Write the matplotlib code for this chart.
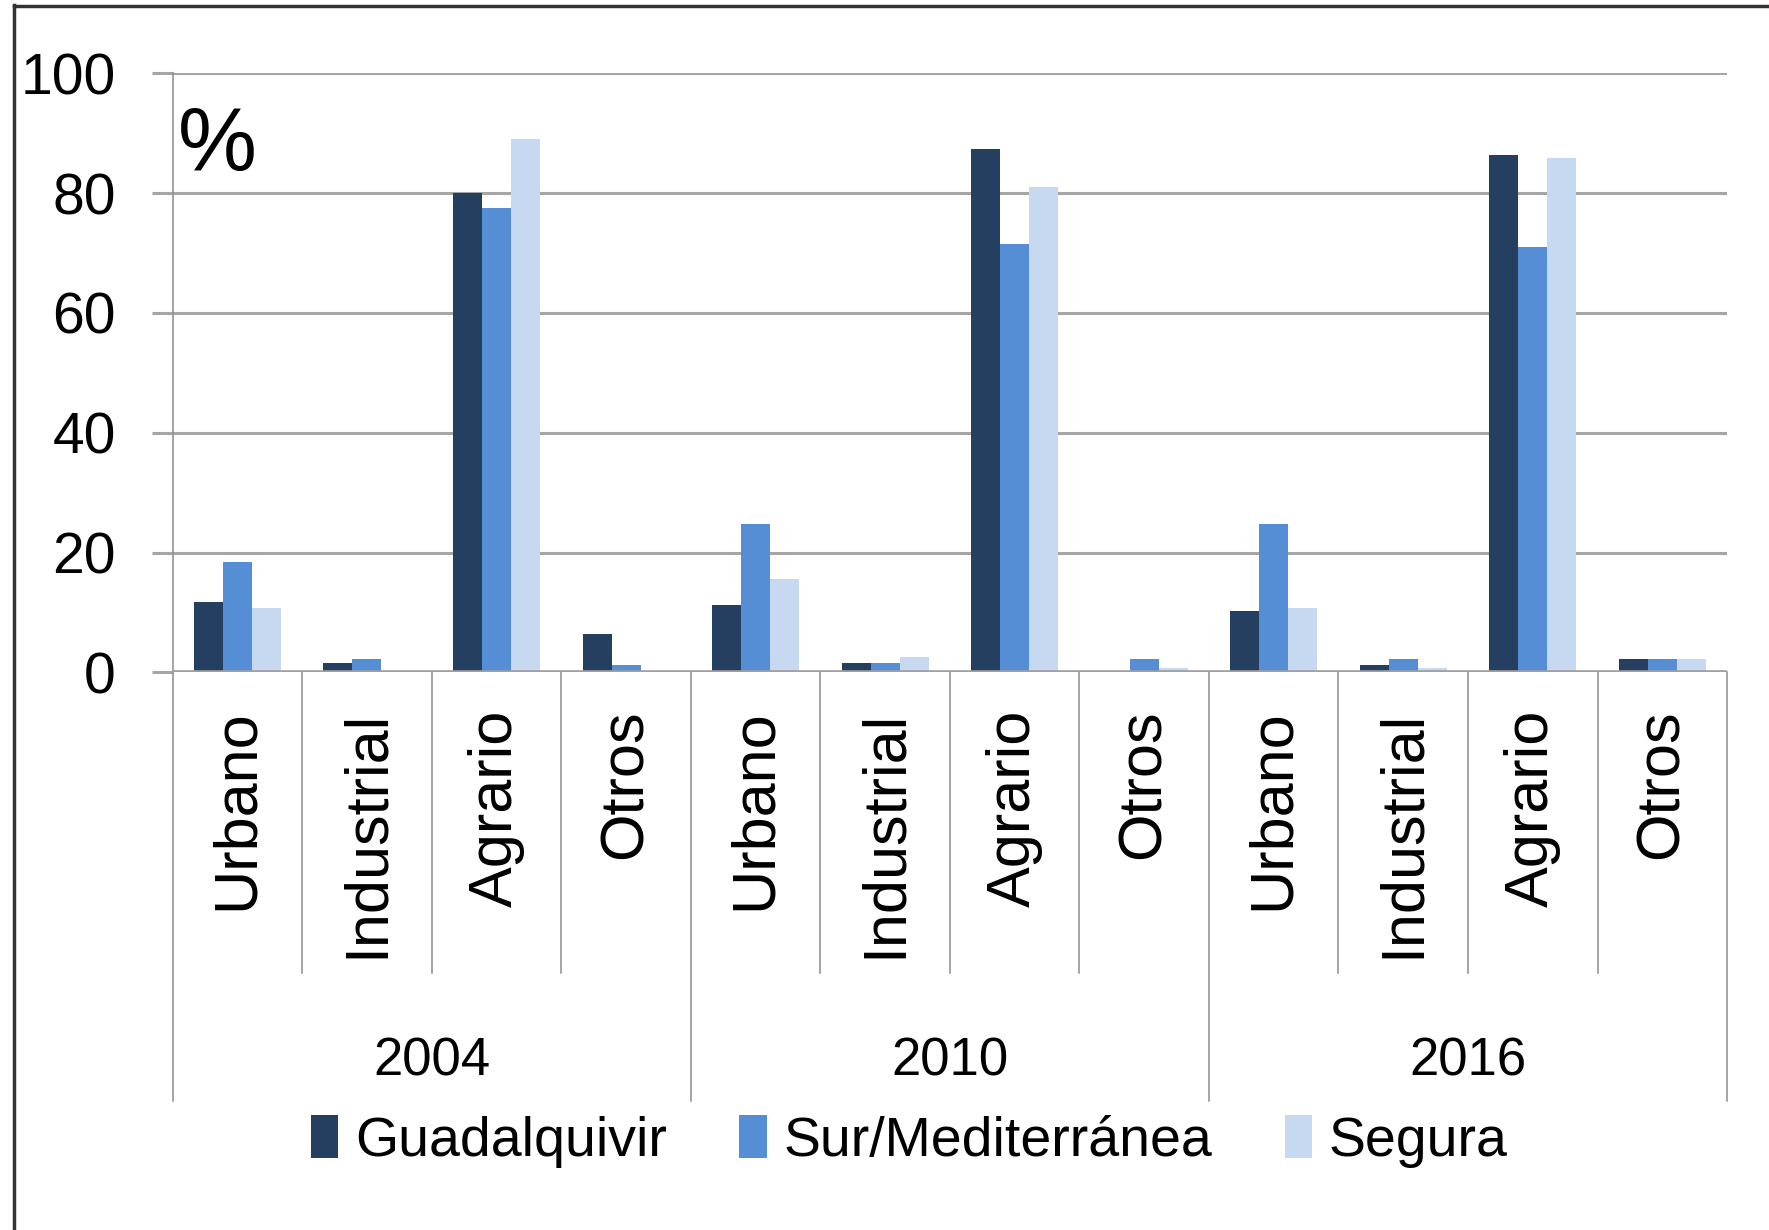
import matplotlib
matplotlib.use('Agg')
import matplotlib.pyplot as plt
from matplotlib.lines import Line2D
from matplotlib.patches import Patch
import matplotlib.transforms as mtransforms
import numpy as np

years = ['2004', '2010', '2016']
usos = ['Urbano', 'Industrial', 'Agrario', 'Otros']
series = ['Guadalquivir', 'Sur/Mediterránea', 'Segura']
colores = ['#243F60', '#558ED5', '#C6D9F1']

# valores por año: Urbano, Industrial, Agrario, Otros
guadalquivir = [11.7, 1.6, 80.0, 6.4,   11.2, 1.6, 87.3, 0.0,   10.2, 1.2, 86.4, 2.2]
sur_med      = [18.4, 2.2, 77.6, 1.2,   24.7, 1.6, 71.5, 2.2,   24.7, 2.2, 71.0, 2.2]
segura       = [10.8, 0.0, 89.0, 0.0,   15.6, 2.6, 81.1, 0.7,   10.8, 0.7, 85.8, 2.2]

plt.rcParams['font.family'] = ['Liberation Sans', 'DejaVu Sans']

fig = plt.figure(figsize=(17.69, 12.30), dpi=100)
ax = fig.add_axes([0.0976, 0.4533, 0.8787, 0.4871])

x = np.arange(12)
w = 0.224
for i, vals in enumerate([guadalquivir, sur_med, segura]):
    ax.bar(x + (i - 1) * w, vals, w, color=colores[i], zorder=3)

ax.set_xlim(-0.5, 11.5)
ax.set_ylim(0, 100)
ax.set_yticks([0, 20, 40, 60, 80, 100])
ax.yaxis.grid(True, color='#A6A6A6', linewidth=2.2, zorder=0)
ax.axhline(0, color='#A0A0A0', linewidth=2.6, zorder=4)
ax.tick_params(axis='y', length=14.8, width=2.2, color='#A6A6A6',
               pad=26, labelsize=41)
ax.tick_params(axis='x', length=0, labelbottom=False)
for s in ['top', 'right', 'bottom', 'left']:
    ax.spines[s].set_visible(False)

gris = '#8C8C8C'
trans = mtransforms.blended_transform_factory(ax.transData, ax.transAxes)
# eje vertical y separadores
ax.plot([-0.5, -0.5], [1, -0.715], color=gris, lw=1.1, transform=trans, clip_on=False)
for k in range(1, 13):
    bottom = -0.715 if k % 4 == 0 else -0.501
    ax.plot([k - 0.5, k - 0.5], [0, bottom], color=gris, lw=1.1,
            transform=trans, clip_on=False)

for k in range(12):
    ax.text(k, -0.062, usos[k % 4], rotation=90, ha='center', va='top',
            fontsize=44, transform=trans)
for g, yr in enumerate(years):
    ax.text(4 * g + 1.5, -0.65, yr, ha='center', va='center',
            fontsize=38, transform=trans)

ax.text(0.0035, 0.947, '%', ha='left', va='top', fontsize=64,
        transform=ax.transAxes)

handles = [Patch(facecolor=c, edgecolor='none') for c in colores]
fig.legend(handles, series, loc='center', bbox_to_anchor=(0.514, 0.072),
           ncol=3, frameon=False, fontsize=40, handlelength=0.5,
           handleheight=0.8, handletextpad=0.3, columnspacing=1.3)

# marco de la imagen
fig.add_artist(Line2D([0.008, 0.008], [0, 0.996], color='#333333', lw=2.5,
                      transform=fig.transFigure))
fig.add_artist(Line2D([0.008, 1], [0.995, 0.995], color='#333333', lw=2.5,
                      transform=fig.transFigure))

fig.savefig('out.png', dpi=100)
